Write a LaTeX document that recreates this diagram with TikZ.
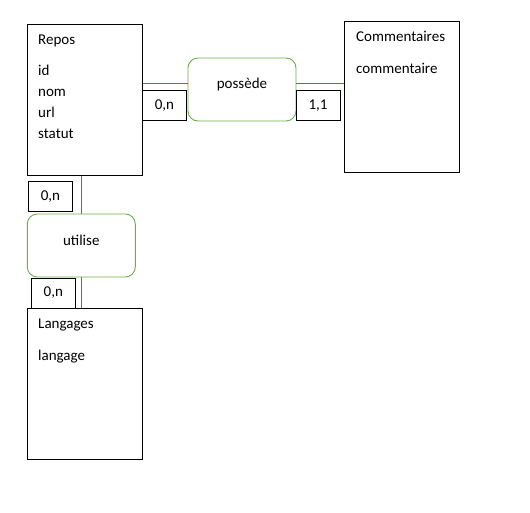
\documentclass[tikz,border=0pt]{standalone}
\usepackage{fontspec}
\setmainfont{Carlito}
\definecolor{linkblue}{RGB}{80,112,170}
\definecolor{assocgreen}{RGB}{112,173,71}
\begin{document}
\begin{tikzpicture}[x=1pt,y=-1pt,
  every node/.style={font=\fontsize{15}{20.7}\selectfont, inner sep=0pt},
  entity/.style={draw=black, line width=0.9pt, fill=white, minimum width=115pt, minimum height=151pt, anchor=north west},
  assoc/.style={draw=assocgreen, line width=0.9pt, rounded corners=10pt, fill=white, minimum width=108pt, minimum height=63pt},
  card/.style={draw=black, line width=0.9pt, fill=white, minimum width=44pt, minimum height=30pt},
  txt/.style={anchor=base west},
  link/.style={draw=linkblue, line width=0.8pt}]
\useasboundingbox (0,0) rectangle (530,513);
% entities
\node[entity] (repos) at (27,24) {};
\node[entity] (comm) at (344,21.5) {};
\node[entity] (lang) at (27,308) {};
% associations
\node[assoc] (poss) at (242,89.5) {};
\node[assoc] (util) at (81.3,245.5) {};
% connectors
\coordinate (pl) at (0,83);
\draw[link] (repos.east |- pl) -- (poss.west |- pl);
\draw[link] (poss.east |- pl) -- (comm.west |- pl);
\draw[link] (util.north) -- (util.north |- repos.south);
\draw[link] (util.south) -- (util.south |- lang.north);
% cardinalities
\node[card] (c1) at (164.5,105.5) {0,n};
\node[card] (c2) at (318,105.5) {1,1};
\node[card] (c3) at (50.5,196.5) {0,n};
\node[card] (c4) at (53.3,293) {0,n};
% entity texts
\node[txt] (treposname) at (38,45) {Repos};
\node[txt] (tid) at (38,76) {id};
\node[txt] (tnom) at (38,96.7) {nom};
\node[txt] (turl) at (38,117.4) {url};
\node[txt] (tstatut) at (38,138.1) {statut};
\node[txt] (tcommname) at (356,41.7) {Commentaires};
\node[txt] (tcomm) at (356,73.5) {commentaire};
\node[txt] (tlangname) at (38,328) {Langages};
\node[txt] (tlang) at (38,360) {langage};
% association texts
\node[anchor=base] (tposs) at (242,88.3) {possède};
\node[anchor=base] (tutil) at (81.3,245) {utilise};
\end{tikzpicture}
\end{document}
